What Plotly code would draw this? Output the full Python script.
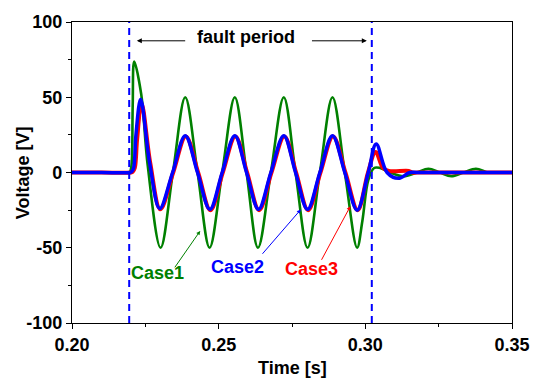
import plotly.graph_objects as go

# ---- data ----
fault_start = 0.2195
fault_end = 0.3022

case1_t = [0.200, 0.210, 0.2192, 0.2198, 0.2203, 0.2207, 0.2212, 0.2236, 0.2258, 0.2302,
           0.2344, 0.2386, 0.2428, 0.2469, 0.2512, 0.2555, 0.2595, 0.2634, 0.2678, 0.2722,
           0.2762, 0.2803, 0.2845, 0.2888, 0.2930, 0.2972, 0.2990, 0.3010, 0.3030, 0.3050,
           0.3085, 0.3130, 0.3175, 0.3215, 0.3254, 0.3293, 0.3335, 0.3377, 0.3418, 0.3445,
           0.3475, 0.350]
case1_v = [0, 0, 0, 0.5, 5, 45, 73.8, 52, 5, -50,
           0, 50, 0, -50, 0, 50, 0, -50, 0, 50,
           0, -50, 0, 50, 0, -50, -32, -5, 3, 3,
           0, -2.5, 0, 2.5, 0, -2.5, 0, 2.5, 0, 0,
           0, 0]

case2_t = [0.200, 0.210, 0.2197, 0.2203, 0.2210, 0.2218, 0.2234, 0.2265, 0.2299, 0.2343,
           0.2386, 0.2428, 0.2470, 0.2512, 0.2555, 0.2595, 0.2636, 0.2678, 0.2722, 0.2762,
           0.2803, 0.2845, 0.2888, 0.2930, 0.2972, 0.3010, 0.3037, 0.3074, 0.3113, 0.3151,
           0.3180, 0.330, 0.350]
case2_v = [0, 0, 0, 0.5, 3, 25, 48.6, 6, -24, 0,
           24.5, 0, -24.5, 0, 24.5, 0, -24.5, 0, 24.5, 0,
           -24.5, 0, 24.5, 0, -25, 0, 19, 0, -3.9, 0,
           0, 0, 0]

case3_t = [0.200, 0.210, 0.2201, 0.2207, 0.2214, 0.2222, 0.2237, 0.2267, 0.2301, 0.2345,
           0.2388, 0.2430, 0.2472, 0.2514, 0.2557, 0.2597, 0.2638, 0.2680, 0.2724, 0.2764,
           0.2805, 0.2847, 0.2890, 0.2932, 0.2974, 0.3009, 0.3035, 0.3060, 0.3080, 0.3148,
           0.3160, 0.3190, 0.330, 0.350]
case3_v = [0, 0, 0, 0.5, 3, 22, 46, 6, -24.5, 0,
           24, 0, -25, 0, 24, 0, -25, 0, 24, 0,
           -25, 0, 24, 0, -25, 0, 13.6, 3, 1, 1,
           0, 0, 0, 0]

x_ticks = [0.20, 0.25, 0.30, 0.35]
x_tick_labels = ["0.20", "0.25", "0.30", "0.35"]
y_ticks = [-100, -50, 0, 50, 100]
y_tick_labels = ["-100", "-50", "0", "50", "100"]

GREEN = "#008000"
RED = "#FF0000"
BLUE = "#0000FF"
FONT = "Liberation Sans"

fig = go.Figure()
fig.add_trace(go.Scatter(x=case1_t, y=case1_v, mode="lines", name="Case1",
                         line=dict(color=GREEN, width=2.6, shape="spline", smoothing=1.0)))
fig.add_trace(go.Scatter(x=case3_t, y=case3_v, mode="lines", name="Case3",
                         line=dict(color=RED, width=4, shape="spline", smoothing=1.0)))
fig.add_trace(go.Scatter(x=case2_t, y=case2_v, mode="lines", name="Case2",
                         line=dict(color=BLUE, width=3.5, shape="spline", smoothing=1.0)))

for xv in (fault_start, fault_end):
    fig.add_shape(type="line", x0=xv, x1=xv, y0=0, y1=1, xref="x", yref="paper",
                  line=dict(color=BLUE, width=2, dash="7px,5px"))

fnt = dict(family=FONT, size=18, color="black", weight="bold")
annots = [
    dict(x=0.2592, y=90, text="fault period", showarrow=False, font=fnt),
    dict(x=0.2221, y=87.5, ax=0.2391, ay=87.5, text="", showarrow=True,
         arrowhead=2, arrowsize=1, arrowwidth=1, arrowcolor="black"),
    dict(x=0.3005, y=87.5, ax=0.2813, ay=87.5, text="", showarrow=True,
         arrowhead=2, arrowsize=1, arrowwidth=1, arrowcolor="black"),
    dict(x=0.2291, y=-67, text="Case1", showarrow=False, font=dict(fnt, color=GREEN)),
    dict(x=0.2437, y=-38.8, ax=0.2347, ay=-64, text="", showarrow=True,
         arrowhead=2, arrowsize=0.8, arrowwidth=1, arrowcolor=GREEN),
    dict(x=0.2565, y=-62.5, text="Case2", showarrow=False, font=dict(fnt, color=BLUE)),
    dict(x=0.2780, y=-24.6, ax=0.2645, ay=-55, text="", showarrow=True,
         arrowhead=2, arrowsize=0.8, arrowwidth=1, arrowcolor=BLUE),
    dict(x=0.2815, y=-64, text="Case3", showarrow=False, font=dict(fnt, color=RED)),
    dict(x=0.2949, y=-22.4, ax=0.2848, ay=-59, text="", showarrow=True,
         arrowhead=2, arrowsize=0.8, arrowwidth=1, arrowcolor=RED),
    dict(x=0.5, y=-0.148, xref="paper", yref="paper", text="Time [s]", showarrow=False,
         font=fnt, yanchor="middle"),
    dict(x=-0.112, y=0.5, xref="paper", yref="paper", text="Voltage [V]", showarrow=False,
         font=fnt, textangle=-90, xanchor="center"),
]
for a in annots:
    if "xref" not in a:
        a["xref"] = "x"
        a["yref"] = "y"
    if "ax" in a:
        a["axref"] = "x"
        a["ayref"] = "y"
    fig.add_annotation(**a)

fig.update_xaxes(range=[0.20, 0.35], tickvals=x_ticks, ticktext=x_tick_labels,
                 ticks="outside", ticklen=5, tickwidth=1, tickcolor="black",
                 minor=dict(dtick=0.025, tick0=0.2, ticks="outside", ticklen=3, tickcolor="black"),
                 showline=True, linecolor="black", linewidth=1.3, mirror=True,
                 showgrid=False, zeroline=False, tickfont=fnt)
fig.update_yaxes(range=[-100, 100], tickvals=y_ticks, ticktext=y_tick_labels,
                 ticks="outside", ticklen=5, tickwidth=1, tickcolor="black",
                 minor=dict(dtick=25, tick0=0, ticks="outside", ticklen=3, tickcolor="black"),
                 showline=True, linecolor="black", linewidth=1.3, mirror=True,
                 showgrid=False, zeroline=False, tickfont=fnt)

fig.update_layout(width=542, height=381, margin=dict(l=72, r=25, t=18, b=58),
                  paper_bgcolor="white", plot_bgcolor="white", showlegend=False,
                  font=dict(family=FONT))
fig.write_html("out.html", config={"displayModeBar": False},
               post_script="document.body.style.margin='0';document.body.style.overflow='hidden';")
